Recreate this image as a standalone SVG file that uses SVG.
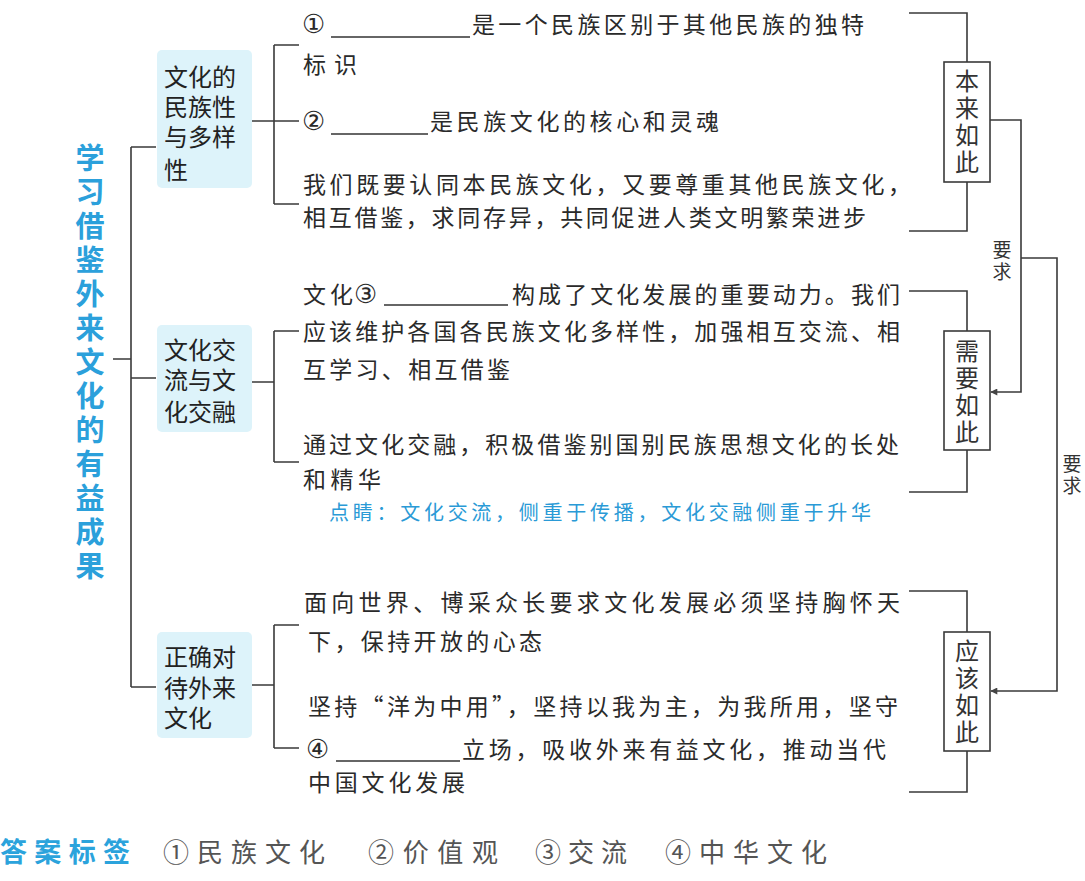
<svg xmlns="http://www.w3.org/2000/svg" width="1085" height="881" viewBox="0 0 1085 881">
<defs>
<marker id="arr" viewBox="0 0 10 10" refX="9" refY="5" markerWidth="9" markerHeight="7" orient="auto" markerUnits="userSpaceOnUse">
<path d="M0,0 L10,5 L0,10 z" fill="#444"/>
</marker>
<style>
.ln{fill:none;stroke:#3a3a3a;stroke-width:1.6}
.body{font-family:"Noto Sans CJK SC","Noto Sans",sans-serif;font-size:23px;fill:#2a2a2a}
.circ{font-family:"DejaVu Sans","Noto Sans CJK SC",sans-serif;font-size:26px;fill:#2a2a2a}
.node{font-family:"Noto Sans CJK SC","Noto Sans",sans-serif;font-size:24px;fill:#222}
.nbox{fill:#ddf3fa}
.vert{writing-mode:vertical-rl}
.title{font-family:"Noto Sans CJK SC","Noto Sans",sans-serif;font-size:29px;font-weight:bold;fill:#2ba0db;letter-spacing:5px}
.lab{font-family:"Noto Sans CJK SC","Noto Sans",sans-serif;font-size:24px;fill:#333;letter-spacing:3px}
.req{font-family:"Noto Sans CJK SC","Noto Sans",sans-serif;font-size:19px;fill:#333;letter-spacing:3px}
.rbox{fill:#fff;stroke:#3a3a3a;stroke-width:1.6}
.blank{stroke:#333;stroke-width:1.3}
.tip{font-family:"Noto Sans CJK SC","Noto Sans",sans-serif;font-size:20px;fill:#2a9ad6}
.ans{font-family:"Noto Sans CJK SC","Noto Sans",sans-serif;font-size:26px;fill:#555}
.anst{font-family:"Noto Sans CJK SC","Noto Sans",sans-serif;font-size:27px;font-weight:bold;fill:#2ba3dc}
</style>
</defs>
<rect width="1085" height="881" fill="#fff"/>

<g id="title">
<text class="title vert" x="90" y="143">学习借鉴外来文化的有益成果</text>
</g>

<g id="connectors">
<path class="ln" d="M113,359 H131 M131,147 V687 M131,147 H156 M131,378 H156 M131,687 H156"/>
<path class="ln" d="M252,121 H299 M274,45 V204 M274,45 H299 M274,204 H299"/>
<path class="ln" d="M252,382 H274 M274,331 V462 M274,331 H299 M274,462 H299"/>
<path class="ln" d="M252,685 H274 M274,625 V748 M274,625 H299 M274,748 H299"/>
<path class="ln" d="M909,13 H967 V62 M967,182 V231 H909"/>
<path class="ln" d="M909,291 H967 V331 M967,450 V492 H909"/>
<path class="ln" d="M909,591 H967 V632 M967,751 V792 H909"/>
<path class="ln" d="M990,120 H1021 V392 H991" marker-end="url(#arr)"/>
<path class="ln" d="M1021,258 H1057 V691 H991" marker-end="url(#arr)"/>
<text class="req vert" x="1002" y="240">要求</text>
<text class="req vert" x="1072" y="454">要求</text>
</g>

<g id="node-minzu">
<rect class="nbox" x="157" y="50" width="95" height="138" rx="5"/>
<text class="node"><tspan x="164" y="86">文化的</tspan><tspan x="164" y="116">民族性</tspan><tspan x="164" y="146">与多样</tspan><tspan x="164" y="179">性</tspan></text>
</g>
<g id="node-jiaoliu">
<rect class="nbox" x="157" y="325" width="95" height="107" rx="5"/>
<text class="node"><tspan x="164" y="359">文化交</tspan><tspan x="164" y="389">流与文</tspan><tspan x="164" y="421">化交融</tspan></text>
</g>
<g id="node-duidai">
<rect class="nbox" x="157" y="632" width="95" height="106" rx="5"/>
<text class="node"><tspan x="164" y="666">正确对</tspan><tspan x="164" y="697">待外来</tspan><tspan x="164" y="727">文化</tspan></text>
</g>

<g id="text-s1">
<text class="circ" x="302" y="33">①</text>
<line class="blank" x1="331" y1="37" x2="470" y2="37"/>
<text class="body" x="472" y="33" textLength="392" lengthAdjust="spacing">是一个民族区别于其他民族的独特</text>
<text class="body" x="303" y="73" textLength="54" lengthAdjust="spacing">标识</text>
<text class="circ" x="302" y="130">②</text>
<line class="blank" x1="331" y1="134" x2="428" y2="134"/>
<text class="body" x="430" y="130" textLength="289" lengthAdjust="spacing">是民族文化的核心和灵魂</text>
<text class="body" x="303" y="193" textLength="608" lengthAdjust="spacing">我们既要认同本民族文化，又要尊重其他民族文化，</text>
<text class="body" x="303" y="226" textLength="563" lengthAdjust="spacing">相互借鉴，求同存异，共同促进人类文明繁荣进步</text>
</g>

<g id="text-s2">
<text class="body" x="303" y="303" textLength="50" lengthAdjust="spacing">文化</text>
<text class="circ" x="354" y="303">③</text>
<line class="blank" x1="384" y1="305" x2="508" y2="305"/>
<text class="body" x="512" y="303" textLength="388" lengthAdjust="spacing">构成了文化发展的重要动力。我们</text>
<text class="body" x="303" y="340" textLength="597" lengthAdjust="spacing">应该维护各国各民族文化多样性，加强相互交流、相</text>
<text class="body" x="303" y="378" textLength="207" lengthAdjust="spacing">互学习、相互借鉴</text>
<text class="body" x="303" y="453" textLength="596" lengthAdjust="spacing">通过文化交融，积极借鉴别国别民族思想文化的长处</text>
<text class="body" x="303" y="488" textLength="78" lengthAdjust="spacing">和精华</text>
</g>

<g id="tip">
<text class="tip" x="329" y="520" textLength="542" lengthAdjust="spacing">点睛：文化交流，侧重于传播，文化交融侧重于升华</text>
</g>

<g id="text-s3">
<text class="body" x="304" y="611" textLength="596" lengthAdjust="spacing">面向世界、博采众长要求文化发展必须坚持胸怀天</text>
<text class="body" x="308" y="650" textLength="234" lengthAdjust="spacing">下，保持开放的心态</text>
<text class="body" x="308" y="715" textLength="590" lengthAdjust="spacing">坚持“洋为中用”，坚持以我为主，为我所用，坚守</text>
<text class="circ" x="306" y="758">④</text>
<line class="blank" x1="336" y1="761" x2="460" y2="761"/>
<text class="body" x="462" y="758" textLength="424" lengthAdjust="spacing">立场，吸收外来有益文化，推动当代</text>
<text class="body" x="308" y="791" textLength="157" lengthAdjust="spacing">中国文化发展</text>
</g>

<g id="box-benlai">
<rect class="rbox" x="944" y="62" width="46" height="120"/>
<text class="lab vert" x="967" y="69">本来如此</text>
</g>
<g id="box-xuyao">
<rect class="rbox" x="944" y="331" width="46" height="119"/>
<text class="lab vert" x="967" y="339">需要如此</text>
</g>
<g id="box-yinggai">
<rect class="rbox" x="944" y="632" width="46" height="119"/>
<text class="lab vert" x="967" y="639">应该如此</text>
</g>

<g id="answers">
<text class="anst" x="0" y="862" textLength="130" lengthAdjust="spacing">答案标签</text>
<text class="ans" x="163" y="862" textLength="162" lengthAdjust="spacing">①民族文化</text>
<text class="ans" x="368" y="862" textLength="130" lengthAdjust="spacing">②价值观</text>
<text class="ans" x="535" y="862" textLength="92" lengthAdjust="spacing">③交流</text>
<text class="ans" x="665" y="862" textLength="162" lengthAdjust="spacing">④中华文化</text>
</g>
</svg>
